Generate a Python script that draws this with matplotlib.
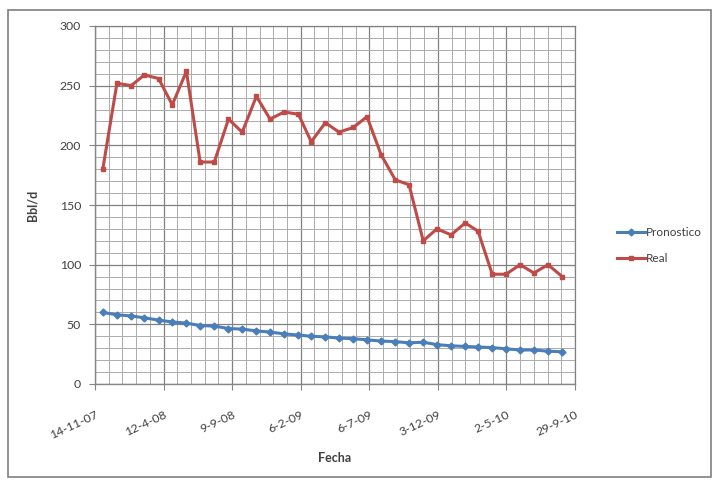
import datetime as dt
import matplotlib
matplotlib.use("Agg")
import matplotlib.pyplot as plt
import matplotlib.dates as mdates
from matplotlib.patches import Rectangle
from matplotlib.ticker import MultipleLocator, FixedLocator, FixedFormatter

plt.rcParams['font.family'] = ['Lato', 'DejaVu Sans']

# Monthly readings, Dec 2007 - Sep 2010
start_month = (2007, 12)
n_months = 34
pronostico = [60, 58, 57, 55.5, 53.5, 52, 51, 49, 48.5, 46.5, 46, 44.5, 43.5, 42,
              41, 40, 39.5, 38.5, 38, 37, 36, 35.5, 34.5, 35, 33, 32, 31.5, 31,
              30.5, 29.5, 28.5, 28.5, 27.5, 27]
real = [180, 252, 250, 259, 256, 234, 262, 186, 186, 222, 211, 241, 222, 228,
        226, 203, 219, 211, 215, 224, 192, 171, 167, 120, 130, 125, 135, 128,
        92, 92, 100, 93, 100, 90]
x_tick_labels = ["14-11-07", "12-4-08", "9-9-08", "6-2-09", "6-7-09",
                 "3-12-09", "2-5-10", "29-9-10"]

fechas = []
y, m = start_month
for _ in range(n_months):
    fechas.append(dt.date(y, m, 1))
    m += 1
    if m > 12:
        m, y = 1, y + 1

def parse_label(s):
    d, mo, yy = s.split("-")
    return dt.date(2000 + int(yy), int(mo), int(d))

tick_dates = [parse_label(s) for s in x_tick_labels]
tick_pos = mdates.date2num(tick_dates)

W, H = 718, 480
fig = plt.figure(figsize=(W / 100, H / 100), dpi=100)
ax = fig.add_axes([95 / W, 1 - 384 / H, 480 / W, 358 / H])

blue = "#4A7EBB"
red = "#BE4B48"
ax.plot(fechas, pronostico, color=blue, lw=2.2, marker="D", ms=3.5,
        mec=blue, mfc=blue, label="Pronostico", zorder=3)
ax.plot(fechas, real, color=red, lw=2.2, marker="s", ms=3.5,
        mec=red, mfc=red, label="Real", zorder=3)

ax.set_xlim(tick_pos[0], tick_pos[-1])
ax.set_ylim(0, 300)

ax.xaxis.set_major_locator(FixedLocator(tick_pos))
ax.xaxis.set_major_formatter(FixedFormatter(x_tick_labels))
minor_x = [tick_pos[0] + 30 * k for k in range(int((tick_pos[-1] - tick_pos[0]) // 30) + 1)]
ax.xaxis.set_minor_locator(FixedLocator(minor_x))
ax.yaxis.set_major_locator(MultipleLocator(50))
ax.yaxis.set_minor_locator(MultipleLocator(10))

ax.grid(which="major", color="#808080", lw=0.9)
ax.grid(which="minor", color="#ababab", lw=0.7)
ax.set_axisbelow(True)

for side in ["left", "bottom"]:
    ax.spines[side].set_color("#868686")
    ax.spines[side].set_linewidth(1.0)
for side in ["top", "right"]:
    ax.spines[side].set_color("#808080")
    ax.spines[side].set_linewidth(0.9)

ax.tick_params(axis="both", which="major", colors="#868686", labelcolor="#404040",
               labelsize=8.8, length=4, direction="out")
ax.tick_params(axis="both", which="minor", length=0)
ax.tick_params(axis="y", pad=6)
ax.tick_params(axis="x", pad=14)
for lbl in ax.get_xticklabels():
    lbl.set_rotation(25)
    lbl.set_ha("right")
    lbl.set_rotation_mode("anchor")

ax.set_xlabel("Fecha", fontsize=9, fontweight="bold", color="#404040")
ax.set_ylabel("Bbl/d", fontsize=9, fontweight="bold", color="#404040")
ax.xaxis.set_label_coords(0.5, -0.19)
ax.yaxis.set_label_coords(-0.117, 0.5)

leg = ax.legend(loc="upper left", bbox_to_anchor=(612 / W, 1 - 222 / H),
                bbox_transform=fig.transFigure, frameon=False, fontsize=8.5,
                handlelength=2.4, handletextpad=0.1, labelspacing=1.3,
                borderaxespad=0)
for t in leg.get_texts():
    t.set_color("#404040")

fig.patches.append(Rectangle((8 / W, 3 / H), 703 / W, 467 / H,
                             transform=fig.transFigure, fill=False,
                             edgecolor="#7f7f7f", lw=1.2))

fig.savefig("out.png", dpi=100)
